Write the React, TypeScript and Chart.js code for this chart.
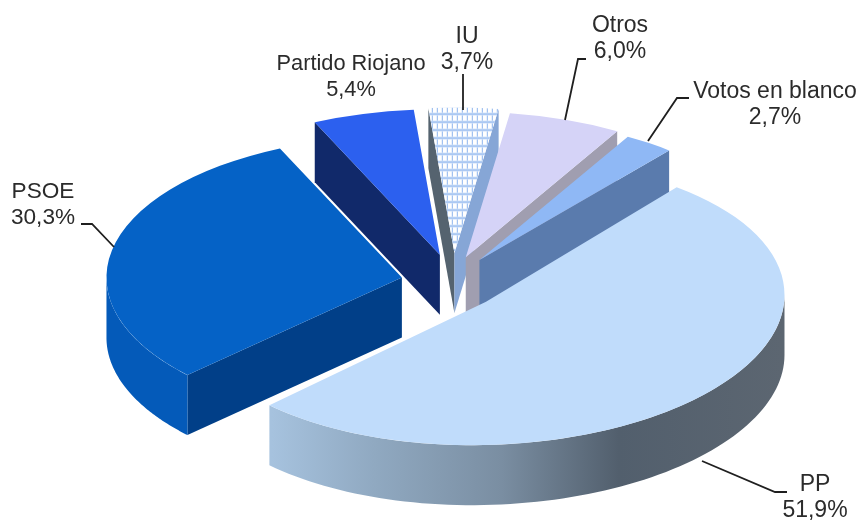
import React, { useEffect, useRef } from "react";
import { Chart, registerables } from "chart.js";

Chart.register(...registerables);

const categories = ["PP", "PSOE", "Partido Riojano", "IU", "Otros", "Votos en blanco"];
const shares = [51.9, 30.3, 5.4, 3.7, 6.0, 2.7];

const topColors = ["#c0dcfb", "#0562c6", "#2c60ef", "#a9c8f2", "#d5d3f7", "#8fb8f5"];
const rimColors = ["#7c90a5", "#045ab9", "#11296a", "#55636f", "#a09eb0", "#5a7bad"];
const startFaceColors = ["#7c90a5", "#013f88", "#11296a", "#55636f", "#a09eb0", "#5a7bad"];
const endFaceColors = ["#7c90a5", "#013f88", "#11296a", "#86a6d6", "#a09eb0", "#5a7bad"];
const radiusScale = [0.985, 0.975, 1, 1, 1, 0.98];
const nudgeX = [-2, -4, -1, 0, -3, -1];
const nudgeY = [10, 6, 1, 0, 3, 3];
const shearY = [-0.023, 0, 0, 0, 0, 0];
const drawOrder = [2, 3, 4, 5, 1, 0];

const PIE_X = 453;
const PIE_Y = 276;
const RADIUS = 303;
const SQUASH = 0.48;
const DEPTH = 60;
const EXPLODE = 48;

const labelCenterX = [815, 43, 351, 467, 620, 775];
const labelBaseY = [491, 198, 70, 43, 32, 98];
const labelSize = [23, 22.6, 21.8, 23, 23, 23];
const leaderX = [[787, 775, 702], [81, 92, 114], [], [463, 463], [586, 578, 565], [689, 677, 648]];
const leaderY = [[492, 492, 461], [224, 224, 247], [], [74, 110], [59, 59, 120], [98, 98, 141]];

const fmt = (v: number) => v.toFixed(1).replace(".", ",") + "%";

function makePattern(ctx: CanvasRenderingContext2D, scaleX: number, scaleY: number) {
  const c = document.createElement("canvas");
  c.width = 5;
  c.height = 8;
  const g = c.getContext("2d")!;
  g.fillStyle = "#8db5ee";
  g.fillRect(0, 0, 5, 8);
  g.fillStyle = "#ffffff";
  g.fillRect(1, 0, 4, 5);
  g.fillStyle = "#d4e4fa";
  g.fillRect(0, 5, 5, 1);
  g.fillRect(0, 7, 5, 1);
  const p = ctx.createPattern(c, "repeat")!;
  p.setTransform(new DOMMatrix().scale(1 / scaleX, 1 / scaleY));
  return p;
}

const pie3d = {
  id: "pie3d",
  beforeDatasetsDraw(chart: any) {
    const ctx: CanvasRenderingContext2D = chart.ctx;
    const arcs = chart.getDatasetMeta(0).data;
    for (const i of drawOrder) {
      const el = arcs[i];
      const start = el.startAngle;
      const end = el.endAngle;
      const mid = (start + end) / 2;
      const r = RADIUS * radiusScale[i];
      const ax = PIE_X + EXPLODE * Math.cos(mid) + nudgeX[i];
      const ay = PIE_Y + EXPLODE * SQUASH * Math.sin(mid) + nudgeY[i];
      const px = (a: number) => ax + r * Math.cos(a);
      const py = (a: number) => ay + r * SQUASH * Math.sin(a) + shearY[i] * r * Math.cos(a);

      const face = (a: number, color: string) => {
        ctx.fillStyle = color;
        ctx.beginPath();
        ctx.moveTo(ax, ay);
        ctx.lineTo(px(a), py(a));
        ctx.lineTo(px(a), py(a) + DEPTH);
        ctx.lineTo(ax, ay + DEPTH);
        ctx.closePath();
        ctx.fill();
      };
      if (Math.cos(start) < 0) face(start, startFaceColors[i]);
      if (Math.cos(end) > 0) face(end, endFaceColors[i]);

      const a0 = Math.max(start, 0);
      const a1 = Math.min(end, Math.PI);
      if (a1 > a0) {
        let fill: any = rimColors[i];
        if (i === 0) {
          const g = ctx.createLinearGradient(272, 0, 782, 0);
          g.addColorStop(0, "#a6c2de");
          g.addColorStop(0.2, "#90a9c1");
          g.addColorStop(0.45, "#7a8ea2");
          g.addColorStop(0.68, "#525f6d");
          g.addColorStop(1, "#5c6671");
          fill = g;
        }
        ctx.fillStyle = fill;
        ctx.beginPath();
        const n = 80;
        for (let t = 0; t <= n; t++) {
          const a = a0 + ((a1 - a0) * t) / n;
          if (t === 0) ctx.moveTo(px(a), py(a));
          else ctx.lineTo(px(a), py(a));
        }
        for (let t = n; t >= 0; t--) {
          const a = a0 + ((a1 - a0) * t) / n;
          ctx.lineTo(px(a), py(a) + DEPTH);
        }
        ctx.closePath();
        ctx.fill();
      }

      const k = r / el.outerRadius;
      if (i === 3) {
        el.options.backgroundColor = makePattern(ctx, k, k * SQUASH);
      }
      ctx.save();
      ctx.transform(k, shearY[i] * k, 0, k * SQUASH, ax, ay);
      ctx.translate(-el.x, -el.y);
      el.draw(ctx);
      ctx.restore();
    }
    return false;
  },
  afterDraw(chart: any) {
    const ctx: CanvasRenderingContext2D = chart.ctx;
    ctx.save();
    ctx.strokeStyle = "#1f1f1f";
    ctx.lineWidth = 1.8;
    leaderX.forEach((xs, i) => {
      if (!xs.length) return;
      ctx.beginPath();
      xs.forEach((x, j) => (j ? ctx.lineTo(x, leaderY[i][j]) : ctx.moveTo(x, leaderY[i][j])));
      ctx.stroke();
    });
    ctx.fillStyle = "#2b2b2b";
    ctx.textAlign = "center";
    ctx.textBaseline = "alphabetic";
    categories.forEach((name, i) => {
      ctx.font = `${labelSize[i]}px "Liberation Sans"`;
      ctx.fillText(name, labelCenterX[i], labelBaseY[i]);
      ctx.fillText(fmt(shares[i]), labelCenterX[i], labelBaseY[i] + 26);
    });
    ctx.restore();
  },
};

export default function App() {
  const ref = useRef<HTMLCanvasElement>(null);
  useEffect(() => {
    document.body.style.margin = "0";
    document.body.style.background = "#ffffff";
    const chart = new Chart(ref.current!, {
      type: "pie",
      data: {
        labels: categories,
        datasets: [{ data: shares, backgroundColor: topColors, borderWidth: 0 }],
      },
      options: {
        responsive: false,
        animation: false,
        rotation: 39.7,
        plugins: { legend: { display: false }, tooltip: { enabled: false } },
      },
      plugins: [pie3d],
    } as any);
    return () => chart.destroy();
  }, []);
  return <canvas ref={ref} width={859} height={523} style={{ display: "block" }} />;
}
